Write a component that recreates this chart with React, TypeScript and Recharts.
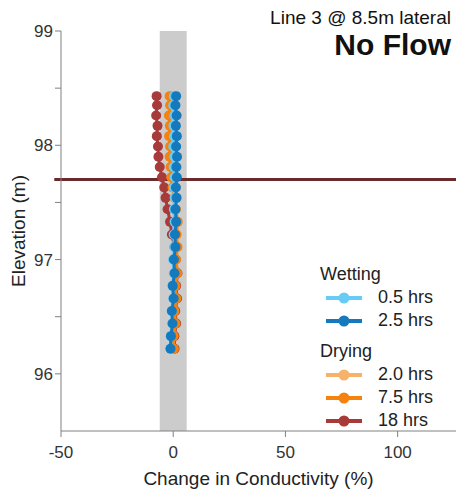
import React from 'react';
import { ScatterChart, Scatter, XAxis, YAxis, ReferenceArea, ReferenceLine, Legend, Label } from 'recharts';

// elevation of each electrode (m), top to bottom
const elevations = [
  98.43, 98.35, 98.26, 98.17, 98.08, 97.99, 97.9, 97.81, 97.72, 97.63, 97.54, 97.44,
  97.33, 97.22, 97.11, 97.0, 96.88, 96.77, 96.66, 96.55, 96.44, 96.33, 96.22,
];

// change in conductivity (%) per series
const wet05 = [
  0.3, 0.0, 0.5, 0.1, 0.4, 0.0, 0.5, 0.2, 0.6, 0.3, 0.7, 0.3, 0.6, 0.2, 0.5, -0.1, 0.3, -0.4, 0.0, -0.7, -0.4, -1.1, -1.3,
];
const wet25 = [
  1.3, 1.0, 1.5, 1.2, 1.6, 1.3, 1.7, 1.4, 1.6, 1.2, 1.5, 1.0, 1.3, 0.8, 1.0, 0.3, 0.6, -0.2, 0.2, -0.6, -0.3, -1.0, -1.2,
];
const dry20 = [
  -1.2, -1.0, -1.4, -1.1, -1.3, -0.9, -1.1, -0.6, -0.4, 0.2, 0.8, 1.0, 1.6, 1.2, 1.6, 1.0, 1.5, 0.7, 1.1, 0.3, 0.6, -0.2, 0.0,
];
const dry75 = [
  -1.6, -1.4, -1.9, -1.5, -1.8, -1.4, -1.6, -1.2, -0.9, -0.3, 0.6, 1.2, 2.0, 1.5, 1.9, 1.3, 1.8, 1.0, 1.4, 0.6, 1.0, 0.2, 0.3,
];
const dry18 = [
  -7.4, -7.2, -7.6, -7.0, -7.3, -6.8, -6.6, -6.0, -5.0, -4.0, -3.4, -2.5, -1.4, -0.6, 0.6, 1.1, 1.9, 1.3, 1.7, 0.9, 1.3, 0.5, 0.6,
];

const xTicks = [-50, 0, 50, 100];
const yTicks = [96, 96.5, 97, 97.5, 98, 98.5, 99];

const toPoints = (vals: number[]) => vals.map((v, i) => ({ x: v, y: elevations[i] }));

const series = [
  { name: '18 hrs', group: 'Drying', color: '#a83a3a', data: toPoints(dry18) },
  { name: '2.0 hrs', group: 'Drying', color: '#f7b26a', data: toPoints(dry20) },
  { name: '7.5 hrs', group: 'Drying', color: '#f5820f', data: toPoints(dry75) },
  { name: '0.5 hrs', group: 'Wetting', color: '#66ccf5', data: toPoints(wet05) },
  { name: '2.5 hrs', group: 'Wetting', color: '#1479bd', data: toPoints(wet25) },
];

const legendGroups = [
  { title: 'Wetting', items: ['0.5 hrs', '2.5 hrs'] },
  { title: 'Drying', items: ['2.0 hrs', '7.5 hrs', '18 hrs'] },
];

const font = '"Liberation Sans", Arial, sans-serif';

const Dot = (color: string) => (props: any) => (
  <circle cx={props.cx} cy={props.cy} r={5} fill={color} />
);

const LegendBox = () => (
  <div style={{ fontFamily: font, fontSize: 18, color: '#222' }}>
    {legendGroups.map((g, gi) => (
      <div key={g.title} style={{ marginTop: gi ? 8 : 0 }}>
        <div style={{ height: 23, lineHeight: '23px', marginTop: gi ? 0 : 2 }}>{g.title}</div>
        {g.items.map((it) => {
          const s = series.find((d) => d.name === it)!;
          return (
            <div key={it} style={{ height: 23, lineHeight: '23px', display: 'flex', alignItems: 'center' }}>
              <svg width={52} height={14} style={{ marginLeft: 6 }}>
                <line x1={0} y1={7} x2={36} y2={7} stroke={s.color} strokeWidth={4} />
                <circle cx={18} cy={7} r={5.5} fill={s.color} />
              </svg>
              <span>{it}</span>
            </div>
          );
        })}
      </div>
    ))}
  </div>
);

export default function App() {
  return (
    <div style={{ position: 'absolute', left: 0, top: 0, width: 456, height: 493, fontFamily: font, background: '#fff' }}>
      <ScatterChart width={456} height={493} margin={{ top: 31, right: 0, bottom: 0, left: 0 }}>
        <XAxis
          type="number"
          dataKey="x"
          domain={[-50, 126]}
          ticks={xTicks}
          allowDataOverflow
          stroke="#808080"
          tickSize={6}
          tickMargin={9}
          tick={{ fill: '#333', fontSize: 17 }}
          height={62}
        >
          <Label value="Change in Conductivity (%)" position="insideBottom" offset={8} fill="#222" fontSize={19} />
        </XAxis>
        <YAxis
          type="number"
          dataKey="y"
          domain={[95.5, 99]}
          ticks={yTicks}
          allowDataOverflow
          stroke="#808080"
          tickSize={6}
          tickMargin={2}
          width={61}
          tick={{ fill: '#333', fontSize: 17 }}
          tickFormatter={(v: number) => (Number.isInteger(v) ? String(v) : '')}
        >
          <Label value="Elevation (m)" angle={-90} position="insideLeft" offset={18} fill="#222" fontSize={19} style={{ textAnchor: 'middle' }} />
        </YAxis>
        <ReferenceArea x1={-6} x2={6} y1={95.5} y2={99} fill="#cccccc" fillOpacity={1} stroke="none" />
        <ReferenceLine
          segment={[{ x: -53, y: 97.7 }, { x: 126, y: 97.7 }]}
          stroke="#6a2a2a"
          strokeWidth={3}
          ifOverflow="visible"
        />
        {series.map((s) => (
          <Scatter
            key={s.name}
            name={s.name}
            data={s.data}
            fill={s.color}
            line={{ stroke: s.color, strokeWidth: 3 }}
            shape={Dot(s.color)}
            isAnimationActive={false}
          />
        ))}
        <Legend
          layout="horizontal"
          verticalAlign="middle"
          align="center"
          content={<LegendBox />}
          wrapperStyle={{ left: 320, top: 261, width: 136 }}
        />
      </ScatterChart>
      <div style={{ position: 'absolute', right: 5, top: 7, fontSize: 19, color: '#111', lineHeight: '22px' }}>
        Line 3 @ 8.5m lateral
      </div>
      <div style={{ position: 'absolute', right: 5, top: 28, fontSize: 30, fontWeight: 'bold', color: '#111', lineHeight: '34px' }}>
        No Flow
      </div>
    </div>
  );
}
